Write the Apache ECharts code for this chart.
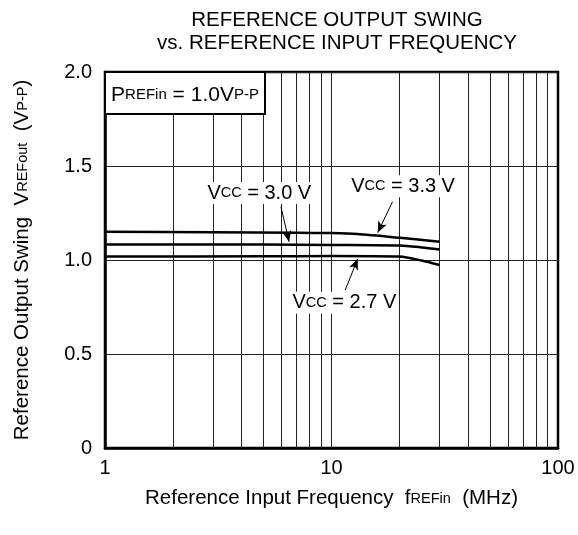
<!DOCTYPE html>
<html>
<head>
<meta charset="utf-8">
<script src="https://cdn.jsdelivr.net/npm/echarts@6/dist/echarts.min.js"></script>
<style>
html,body{margin:0;padding:0;background:#fff;}
#chart{width:578px;height:535px;}
</style>
</head>
<body>
<div id="chart"></div>
<script>
// ---- data ----
const titleLines = ['REFERENCE OUTPUT SWING', 'vs. REFERENCE INPUT FREQUENCY'];
const xTicks = [1, 10, 100];
const yTicks = [0, 0.5, 1.0, 1.5, 2.0];
const minorFreqs = [2, 3, 4, 5, 6, 7, 8, 9, 10, 20, 30, 40, 50, 60, 70, 80, 90];

const freq33 = [1, 3, 7, 10, 13, 20, 30];
const vout33 = [1.150, 1.148, 1.145, 1.143, 1.138, 1.118, 1.097];
const freq30 = [1, 5, 10, 20, 25, 30];
const vout30 = [1.083, 1.082, 1.080, 1.077, 1.067, 1.056];
const freq27 = [1, 5, 10, 20, 25, 30];
const vout27 = [1.018, 1.020, 1.021, 1.018, 0.997, 0.973];

const seriesNames = ['VCC = 3.3 V', 'VCC = 3.0 V', 'VCC = 2.7 V'];

// annotation anchors (data coordinates)
const labelPos = {
  v30: [4.8, 1.356],
  v33: [20.7, 1.392],
  v27: [11.4, 0.772]
};
const arrows = [
  [[5.98, 1.283], [6.5, 1.097]],
  [[18.6, 1.310], [16.0, 1.146]],
  [[11.5, 0.840], [13.05, 1.006]]
];

// ---- build ----
const zip = (xs, ys) => xs.map((x, i) => [x, ys[i]]);
const FONT = 'Liberation Sans, Arial, sans-serif';

const chart = echarts.init(document.getElementById('chart'), null, {renderer: 'canvas'});

const lineStyle = {color: '#000', width: 2.5};

const option = {
  animation: false,
  backgroundColor: '#fff',
  textStyle: {fontFamily: FONT, color: '#000'},
  title: {
    text: titleLines.join('\n'),
    left: 332, top: 4, textAlign: 'center',
    textStyle: {fontFamily: FONT, fontSize: 20.5, fontWeight: 'normal', color: '#000', lineHeight: 23}
  },
  grid: {left: 105, right: 20, top: 72, bottom: 87, show: true, borderColor: '#000', borderWidth: 2.5, backgroundColor: 'transparent'},
  xAxis: {
    type: 'log', logBase: 10, min: 1, max: 100,
    axisLine: {show: true, lineStyle: {color: '#000', width: 2.5}},
    axisTick: {show: false},
    splitLine: {show: false},
    axisLabel: {fontFamily: FONT, fontSize: 20, color: '#000', margin: 10, formatter: v => String(v)},
    name: 'Reference Input Frequency  f{s|REFin}  (MHz)',
    nameLocation: 'middle', nameGap: 40,
    nameTextStyle: {fontFamily: FONT, fontSize: 20.5, color: '#000', rich: {s: {fontFamily: FONT, fontSize: 14.5, color: '#000'}}}
  },
  yAxis: {
    type: 'value', min: 0, max: 2, interval: 0.5,
    axisLine: {show: true, lineStyle: {color: '#000', width: 2.5}},
    axisTick: {show: false},
    splitLine: {show: true, lineStyle: {color: '#222', width: 1}},
    axisLabel: {fontFamily: FONT, fontSize: 20, color: '#000', margin: 13, formatter: v => (v === 0 ? '0' : v.toFixed(1))},
    name: 'Reference Output Swing  V{s|REFout}  (V{s|P-P})',
    nameLocation: 'middle', nameGap: 72,
    nameTextStyle: {fontFamily: FONT, fontSize: 20.5, color: '#000', rich: {s: {fontFamily: FONT, fontSize: 14.5, color: '#000'}}}
  },
  series: [
    {
      name: 'grid', type: 'line', data: [], silent: true, z: 1,
      markLine: {
        silent: true, symbol: ['none', 'none'], label: {show: false},
        lineStyle: {color: '#222', width: 1, type: 'solid'},
        data: minorFreqs.map(f => ({xAxis: f}))
      }
    },
    {name: seriesNames[0], type: 'line', data: zip(freq33, vout33), smooth: 0.25, showSymbol: false, lineStyle: lineStyle, z: 5},
    {name: seriesNames[1], type: 'line', data: zip(freq30, vout30), smooth: 0.25, showSymbol: false, lineStyle: lineStyle, z: 5},
    {name: seriesNames[2], type: 'line', data: zip(freq27, vout27), smooth: 0.25, showSymbol: false, lineStyle: lineStyle, z: 5},
    {
      name: 'arrows', type: 'line', data: [], silent: true, z: 20,
      markLine: {
        silent: true, symbol: ['none', 'arrow'], symbolSize: [7, 11], label: {show: false},
        lineStyle: {color: '#000', width: 1, type: 'solid'},
        data: arrows.map(a => [{coord: a[0]}, {coord: a[1]}])
      }
    }
  ]
};
chart.setOption(option);

function vccText(v) { return 'V{s|CC} = ' + v + ' V'; }
const rich = {s: {fontFamily: FONT, fontSize: 14.5, color: '#000'}};
function labelAt(key, text) {
  const p = chart.convertToPixel({gridIndex: 0}, labelPos[key]);
  return {
    type: 'text', x: p[0], y: p[1], z: 50,
    style: {text: text, fontFamily: FONT, fontSize: 20, fill: '#000', align: 'center', verticalAlign: 'middle',
            backgroundColor: '#fff', padding: [1, 2], rich: rich}
  };
}
const boxTL = chart.convertToPixel({gridIndex: 0}, [1, 2.0]);
chart.setOption({
  graphic: [
    {type: 'rect', z: 40, shape: {x: boxTL[0], y: boxTL[1], width: 160, height: 42},
     style: {fill: '#fff', stroke: '#000', lineWidth: 2}},
    {type: 'text', z: 41, x: boxTL[0] + 80, y: boxTL[1] + 23,
     style: {text: 'P{s|REFin} = 1.0V{s|P-P}', fontFamily: FONT, fontSize: 21, fill: '#000', align: 'center', verticalAlign: 'middle',
             rich: {s: {fontFamily: FONT, fontSize: 15, color: '#000'}}}},
    labelAt('v30', vccText('3.0')),
    labelAt('v33', vccText('3.3')),
    labelAt('v27', vccText('2.7'))
  ]
});
</script>
</body>
</html>
